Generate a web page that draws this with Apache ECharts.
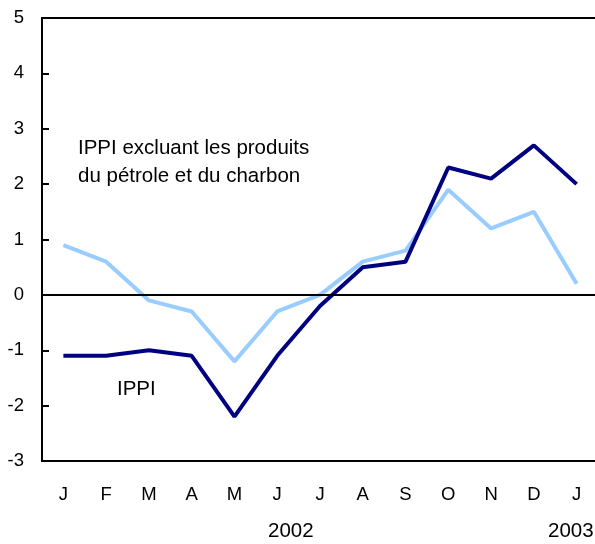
<!DOCTYPE html>
<html>
<head>
<meta charset="utf-8">
<script src="https://cdn.jsdelivr.net/npm/echarts@6/dist/echarts.min.js"></script>
<style>
  html, body { margin: 0; padding: 0; background: #fff; }
  #chart { width: 595px; height: 544px; }
</style>
</head>
<body>
<div id="chart"></div>
<script>
// mois de janvier 2002 à janvier 2003
const months = ['J', 'F', 'M', 'A', 'M', 'J', 'J', 'A', 'S', 'O', 'N', 'D', 'J']
// IPPI
const ippi = [-1.1, -1.1, -1.0, -1.1, -2.2, -1.1, -0.2, 0.5, 0.6, 2.3, 2.1, 2.7, 2.0]
// IPPI excluant les produits du pétrole et du charbon
const ippiExcl = [0.9, 0.6, -0.1, -0.3, -1.2, -0.3, 0.0, 0.6, 0.8, 1.9, 1.2, 1.5, 0.2]

const font = 'Liberation Sans, Arial, sans-serif'
const noteFont = '20.5px ' + font

const chart = echarts.init(document.getElementById('chart'))

chart.setOption({
  animation: false,
  grid: {
    left: 42,
    top: 18,
    width: 556,
    height: 443,
    outerBoundsMode: 'none',
    containLabel: false,
    show: true,
    borderColor: '#000',
    borderWidth: 2
  },
  xAxis: {
    type: 'category',
    data: months,
    boundaryGap: true,
    axisLine: { lineStyle: { color: '#000', width: 2 } },
    axisTick: { inside: true, length: 7, lineStyle: { color: '#000', width: 2 } },
    axisLabel: { color: '#000', fontSize: 18.5, fontFamily: font, margin: 24 },
    splitLine: { show: false }
  },
  yAxis: {
    type: 'value',
    min: -3,
    max: 5,
    interval: 1,
    axisLine: { show: true, lineStyle: { color: '#000', width: 2 } },
    axisTick: { show: true, inside: true, length: 7, lineStyle: { color: '#000', width: 2 } },
    axisLabel: { color: '#000', fontSize: 18.5, fontFamily: font, margin: 18 },
    splitLine: { show: false }
  },
  graphic: [
    { type: 'text', left: 78, top: 134, style: { text: 'IPPI excluant les produits\ndu pétrole et du charbon', fill: '#000', font: noteFont, lineHeight: 28 } },
    { type: 'text', left: 117, top: 379, style: { text: 'IPPI', fill: '#000', font: noteFont } },
    { type: 'text', left: 268, top: 521, style: { text: '2002', fill: '#000', font: noteFont } },
    { type: 'text', left: 548, top: 521, style: { text: '2003', fill: '#000', font: noteFont } }
  ],
  series: [
    {
      name: 'IPPI excluant les produits du pétrole et du charbon',
      type: 'line',
      data: ippiExcl,
      symbol: 'none',
      lineStyle: { color: '#99ccff', width: 4 },
      z: 2,
      markLine: {
        silent: true,
        symbol: 'none',
        label: { show: false },
        lineStyle: { color: '#000', width: 2, type: 'solid' },
        data: [{ yAxis: 0 }]
      }
    },
    {
      name: 'IPPI',
      type: 'line',
      data: ippi,
      symbol: 'none',
      lineStyle: { color: '#000080', width: 4 },
      z: 3
    }
  ]
})
</script>
</body>
</html>
